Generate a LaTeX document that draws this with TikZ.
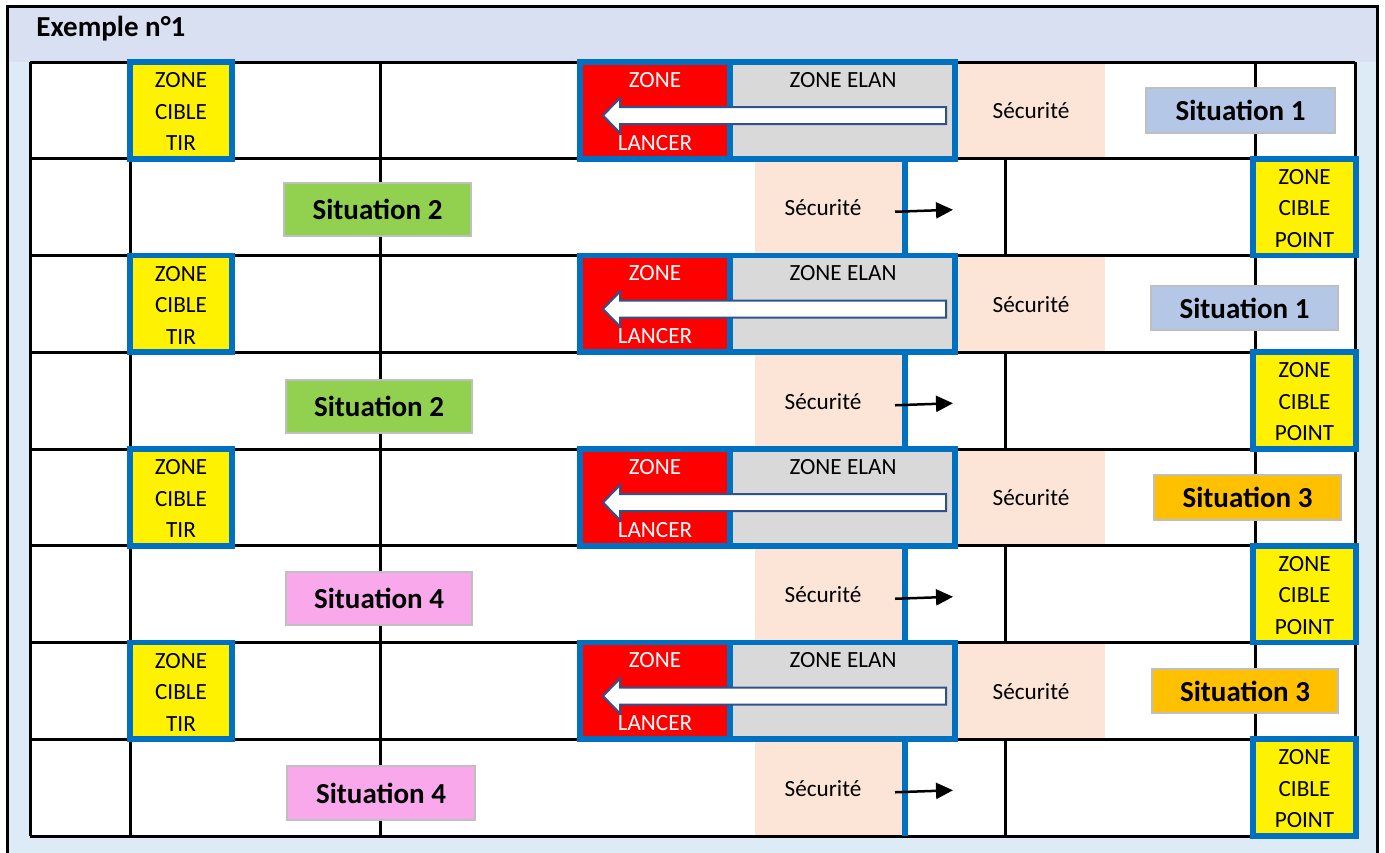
\documentclass[tikz,border=0pt]{standalone}
\usepackage{fontspec}
\setmainfont{Carlito}
\usetikzlibrary{arrows.meta}

\definecolor{cadrebleu}{HTML}{0070C0}
\definecolor{fondbleu}{HTML}{DDEBF7}
\definecolor{lavande}{HTML}{D9E0F2}
\definecolor{grisclair}{HTML}{D9D9D9}
\definecolor{peche}{HTML}{FCE4D6}
\definecolor{rouge}{HTML}{FF0000}
\definecolor{contourfleche}{HTML}{2F528F}
\definecolor{bordsitu}{HTML}{BFBFBF}
\definecolor{situbleu}{HTML}{B4C7E7}
\definecolor{situvert}{HTML}{92D050}
\definecolor{situorange}{HTML}{FFC000}
\definecolor{siturose}{HTML}{F9A8EC}

\begin{document}
\begin{tikzpicture}[x=0.5pt,y=-0.5pt]

    \tikzset{
      grille/.style={line width=1.5pt,black},
      trait bleu/.style={line width=2.8pt,draw=cadrebleu},
      cellule/.style={anchor=center,inner sep=0pt,align=center,
        font=\fontsize{11.6}{15.75}\selectfont},
      situ/.style={draw=bordsitu,line width=1pt,inner sep=0pt,
        font=\bfseries\fontsize{14.5}{17}\selectfont},
      fleche/.style={line width=1.25pt,-{Triangle[length=8.5pt,width=8pt]}},
    }
    \clip (0,0) rectangle (1385,852);
    % fond et bandeau
    \fill[fondbleu] (7,6) rectangle (1377,870);
    \fill[lavande] (7,6) rectangle (1377,62);
    \draw[line width=1.5pt] (7,870) -- (7,6) -- (1377,6) -- (1377,870);
    \node[anchor=west,inner sep=0pt,font=\bfseries\fontsize{14.5}{17}\selectfont] (titre) at (36,29) {Exemple n°1};
    \fill[white] (30,62) rectangle (1355,836);

    % lignes impaires : zone lancer / elan
    \foreach \r in {0,...,3}{
      \pgfmathsetmacro\haut{62+2*\r*96.75}
      \pgfmathsetmacro\bas{\haut+96.75}
      \fill[peche] (955,\haut) rectangle (1105,\bas);
      \draw[grille] (380,\haut) -- (380,\bas);
      \draw[grille] (1255,\haut) -- (1255,\bas);
      \fill[rouge] (580,\haut) rectangle (730,\bas);
      \fill[grisclair] (730,\haut) rectangle (955,\bas);
    }
    % lignes paires : securite / cible point
    \foreach \r in {0,...,3}{
      \pgfmathsetmacro\haut{62+(2*\r+1)*96.75}
      \pgfmathsetmacro\bas{\haut+96.75}
      \fill[peche] (755,\haut) rectangle (905,\bas);
      \draw[grille] (130,\haut) -- (130,\bas);
      \draw[grille] (380,\haut) -- (380,\bas);
      \draw[grille] (1005,\haut) -- (1005,\bas);
    }
    % grille
    \foreach \r in {0,...,8}{
      \draw[grille] (30,62+\r*96.75) -- (1355,62+\r*96.75);
    }
    \draw[grille] (30,62) -- (30,836);
    \draw[grille] (1355,62) -- (1355,836);

    \foreach \r in {0,...,3}{
      \pgfmathsetmacro\haut{62+2*\r*96.75}
      \pgfmathsetmacro\bas{\haut+96.75}
      \draw[trait bleu] (580,\haut) rectangle (955,\bas);
      \draw[trait bleu] (730,\haut) -- (730,\bas);
      % grosse fleche blanche
      \filldraw[fill=white,draw=contourfleche,line width=1pt]
        (946,\haut+45) -- (620,\haut+45) -- (620,\haut+36) -- (603,\haut+53.5)
        -- (620,\haut+71) -- (620,\haut+62) -- (946,\haut+62) -- cycle;
      \filldraw[trait bleu,fill=yellow] (130,\haut) rectangle (232,\bas);
      \node[cellule] (tir\r) at (181,\haut+49.5) {ZONE\\CIBLE\\TIR};
      \node[cellule,text=white] (zone\r) at (655,\haut+18) {ZONE};
      \node[cellule,text=white] (lancer\r) at (655,\haut+81) {LANCER};
      \node[cellule] (elan\r) at (843,\haut+18) {ZONE ELAN};
      \node[cellule] (secu\r) at (1031,\haut+49) {Sécurité};
    }
    \foreach \r in {0,...,3}{
      \pgfmathsetmacro\haut{62+(2*\r+1)*96.75}
      \pgfmathsetmacro\bas{\haut+96.75}
      \draw[trait bleu] (905,\haut) -- (905,\bas);
      \filldraw[trait bleu,fill=yellow] (1253,\haut) rectangle (1356,\bas);
      \node[cellule] (point\r) at (1304.5,\haut+49.5) {ZONE\\CIBLE\\POINT};
      \node[cellule] (secur\r) at (823,\haut+49) {Sécurité};
      \coordinate (depart\r) at (895,\haut+53);
      \coordinate (fin\r) at (953,\haut+51);
      \draw[fleche] (depart\r) -- (fin\r);
    }

    % situations
    \foreach \nom/\cx/\cy/\larg/\hautb/\coul/\txt in {
      sitA/1240.5/110.5/94.5/22.5/situbleu/Situation 1,
      sitB/377.5/209.5/93.5/26.5/situvert/Situation 2,
      sitC/1244.5/308/93.5/22/situbleu/Situation 1,
      sitD/379/406.5/93/26.5/situvert/Situation 2,
      sitE/1247.5/497.5/93.5/22.5/situorange/Situation 3,
      sitF/379/598.5/93/26.5/siturose/Situation 4,
      sitG/1245/691/93/22/situorange/Situation 3,
      sitH/381/793/94/27/siturose/Situation 4}{
      \node[situ,fill=\coul,minimum width=\larg pt,minimum height=\hautb pt] (\nom) at (\cx,\cy) {\txt};
    }

\end{tikzpicture}
\end{document}
